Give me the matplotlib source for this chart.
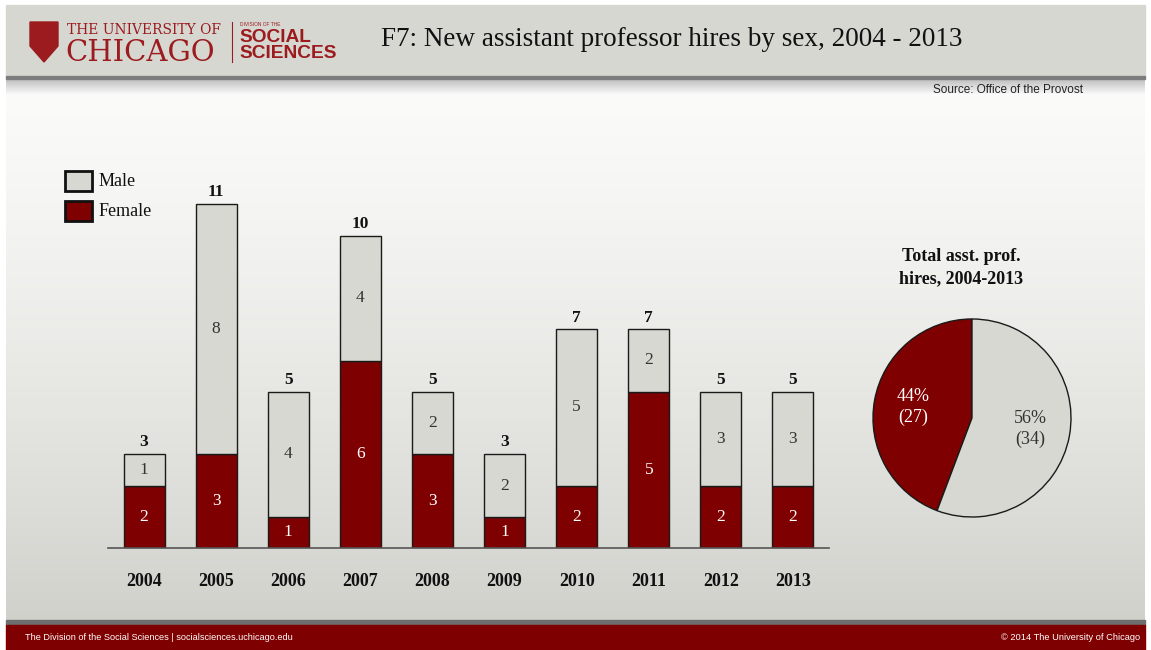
import numpy as np
import matplotlib.pyplot as plt
from matplotlib.patches import Rectangle, Polygon

# data
years = ["2004", "2005", "2006", "2007", "2008", "2009", "2010", "2011", "2012", "2013"]
female = [2, 3, 1, 6, 3, 1, 2, 5, 2, 2]
male = [1, 8, 4, 4, 2, 2, 5, 2, 3, 3]
pie_labels = ["Female", "Male"]

MAROON = "#7f0000"
STONE = "#d8d8d2"
SERIF = ["Liberation Serif", "DejaVu Serif"]
SANS = ["Liberation Sans", "DejaVu Sans"]

W, H = 1151, 650
fig = plt.figure(figsize=(W / 100, H / 100), dpi=100)


def fx(px):
    return px / W


def fy(py):
    return 1 - py / H


# background: header band, body gradient, footer band
bg = fig.add_axes([0, 0, 1, 1], zorder=0)
bg.set_xlim(0, W)
bg.set_ylim(H, 0)
bg.axis("off")
grad = np.linspace(0, 1, 256).reshape(-1, 1)
top_c = np.array([0.985, 0.985, 0.98])
bot_c = np.array([0.82, 0.82, 0.80])
body = top_c + (bot_c - top_c) * grad[..., None] ** 1.3
bg.imshow(body, extent=[6, W - 6, 620, 80], aspect="auto", zorder=0)
bg.add_patch(Rectangle((6, 5), W - 12, 71, color="#d7d7d2", zorder=1))
bg.add_patch(Rectangle((6, 76), W - 12, 3, color="#7d7d7d", zorder=2))
shadow = np.linspace(0.75, 0.985, 32).reshape(-1, 1)
bg.imshow(np.dstack([shadow] * 3), extent=[6, W - 6, 95, 79], aspect="auto", zorder=1)
bg.add_patch(Rectangle((6, 620), W - 12, 5, color="#6e6e6e", zorder=2))
bg.add_patch(Rectangle((6, 625), W - 12, 25, color=MAROON, zorder=2))

# logo
bg.add_patch(Polygon([(30, 22), (58, 22), (58, 46), (44, 62), (30, 46)],
                     closed=True, color="#9b1b1e", zorder=3))
bg.text(67, 34, "THE UNIVERSITY OF", color="#9b1b1e", fontsize=10,
        family="DejaVu Serif", va="baseline", ha="left", zorder=4)
bg.text(65, 61, "CHICAGO", color="#9b1b1e", fontsize=21,
        family="DejaVu Serif", va="baseline", ha="left", zorder=4)
bg.plot([232, 232], [22, 62], color="#9b1b1e", lw=0.8, zorder=4)
bg.text(240, 25, "DIVISION OF THE", color="#9b1b1e", fontsize=3.5,
        family=SANS, va="center", ha="left", zorder=4)
bg.text(239, 38, "SOCIAL", color="#9b1b1e", fontsize=13.8, fontweight="bold",
        family=SANS, va="center", ha="left", zorder=4)
bg.text(239, 53, "SCIENCES", color="#9b1b1e", fontsize=13.8, fontweight="bold",
        family=SANS, va="center", ha="left", zorder=4)

bg.text(381, 40, "F7: New assistant professor hires by sex, 2004 - 2013",
        fontsize=19.5, family=SERIF, va="center", ha="left", color="#111", zorder=4)
bg.text(1083, 90, "Source: Office of the Provost", fontsize=8.5,
        family=SANS, va="center", ha="right", color="#222", zorder=4)

bg.text(25, 638, "The Division of the Social Sciences | socialsciences.uchicago.edu",
        fontsize=6.6, family=SANS, color="white", va="center", ha="left", zorder=4)
bg.text(1140, 638, "\u00a9 2014 The University of Chicago",
        fontsize=6.7, family=SANS, color="white", va="center", ha="right", zorder=4)

# legend
for y0, col, lab in [(171, STONE, "Male"), (201, MAROON, "Female")]:
    bg.add_patch(Rectangle((65, y0), 27, 20, facecolor=col, edgecolor="#111",
                           lw=2, zorder=4))
    bg.text(99, y0 + 11, lab, fontsize=13, family=SERIF, va="center",
            ha="left", color="#111", zorder=4)

# stacked bars
ax = fig.add_axes([fx(108), fy(548), fx(721), 375 / H], zorder=2)
ax.patch.set_alpha(0)
x = np.arange(len(years))
bw = 0.57
ax.bar(x, female, bw, color=MAROON, edgecolor="#1a1a1a", lw=1)
ax.bar(x, male, bw, bottom=female, color=STONE, edgecolor="#1a1a1a", lw=1)
for i in range(len(years)):
    f, m = female[i], male[i]
    ax.text(x[i], f / 2, str(f), ha="center", va="center", color="white",
            fontsize=12.5, family=SERIF)
    ax.text(x[i], f + m / 2, str(m), ha="center", va="center", color="#333",
            fontsize=12.5, family=SERIF)
    ax.text(x[i], f + m + 0.12, str(f + m), ha="center", va="bottom",
            color="#111", fontsize=12.5, fontweight="bold", family=SERIF)
ax.set_xlim(-0.5, len(years) - 0.5)
ax.set_ylim(0, 12)
ax.set_xticks(x)
ax.set_xticklabels(years, fontsize=13, fontweight="bold", family=SERIF, color="#111")
ax.tick_params(axis="x", length=0, pad=18)
ax.set_yticks([])
for s in ["top", "right", "left"]:
    ax.spines[s].set_visible(False)
ax.spines["bottom"].set_color("#555")
ax.spines["bottom"].set_linewidth(1.2)

# pie of totals
totals = [sum(female), sum(male)]
pax = fig.add_axes([fx(872), fy(518), fx(200), 200 / H], zorder=2)
wedges, texts, autotexts = pax.pie(
    totals, colors=[MAROON, STONE], startangle=90, counterclock=True,
    radius=1, pctdistance=0.6,
    autopct=lambda p: f"{p:.0f}%\n({round(p * sum(totals) / 100)})",
    wedgeprops=dict(edgecolor="#1a1a1a", linewidth=1),
    textprops=dict(fontsize=13, family=SERIF, linespacing=1.3))
autotexts[0].set_color("white")
autotexts[1].set_color("#333")
pax.set_xlim(-1.01, 1.01)
pax.set_ylim(-1.01, 1.01)
pax.set_aspect("equal")
bg.text(961, 268, "Total asst. prof.\nhires, 2004-2013", fontsize=13,
        fontweight="bold", family=SERIF, ha="center", va="center",
        color="#111", linespacing=1.4, zorder=4)

fig.savefig("out.png", dpi=100)
